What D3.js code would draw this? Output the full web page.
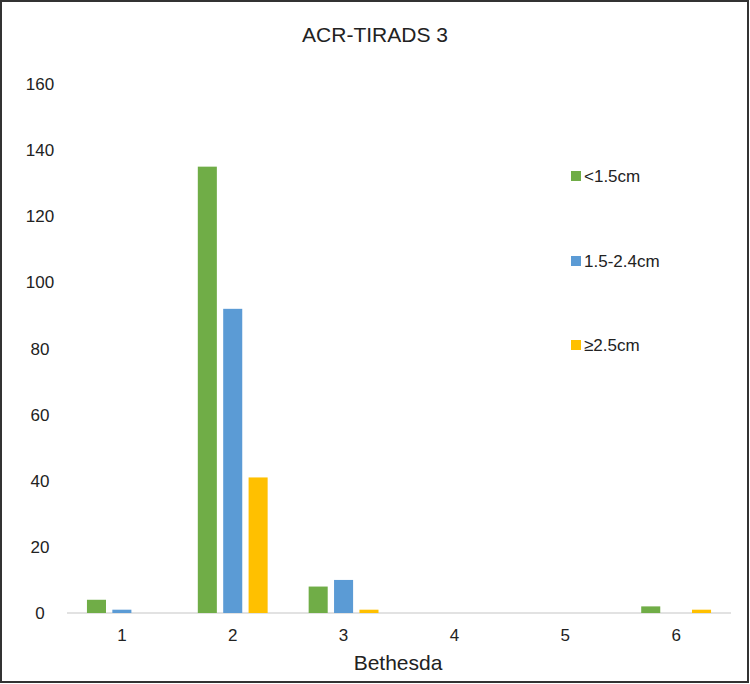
<!DOCTYPE html>
<html><head><meta charset="utf-8">
<script src="https://cdn.jsdelivr.net/npm/d3@7"></script>
<style>body{margin:0;background:#fff}svg{display:block}</style>
</head><body>
<svg id="c" width="750" height="684"></svg>
<script>
const categories = ["1","2","3","4","5","6"];
const seriesNames = ["<1.5cm","1.5-2.4cm","≥2.5cm"];
const small = [4,135,8,0,0,2];
const medium = [1,92,10,0,0,0];
const large = [0,41,1,0,0,1];
const colors = ["#70ad47","#5b9bd5","#ffc000"];
const yTicks = [0,20,40,60,80,100,120,140,160];

const svg = d3.select("#c");
svg.append("rect").attr("x",1).attr("y",1).attr("width",747).attr("height",681)
  .attr("fill","#fff").attr("stroke","#333").attr("stroke-width",2);
const font = "Liberation Sans, Arial, sans-serif";
const x = d3.scaleBand().domain(categories).range([67,731]).paddingInner(0.37).paddingOuter(0.18);
const xs = d3.scaleBand().domain(seriesNames).range([0,x.bandwidth()]).paddingInner(0.25);
const y = d3.scaleLinear().domain([0,160]).range([613,84]);

svg.append("text").attr("x",375).attr("y",42).attr("text-anchor","middle")
  .attr("font-family",font).attr("font-size",21).attr("fill","#222").text("ACR-TIRADS 3");

svg.append("line").attr("x1",67).attr("x2",731).attr("y1",y(0)).attr("y2",y(0))
  .attr("stroke","#d9d9d9").attr("stroke-width",1.5);

svg.append("g").selectAll("text").data(yTicks).join("text")
  .attr("x",40).attr("y",d=>y(d)+6).attr("text-anchor","middle")
  .attr("font-family",font).attr("font-size",17).attr("fill","#222").text(d=>d);

svg.append("g").selectAll("text").data(categories).join("text")
  .attr("x",d=>x(d)+x.bandwidth()/2).attr("y",641).attr("text-anchor","middle")
  .attr("font-family",font).attr("font-size",17).attr("fill","#222").text(d=>d);

svg.append("text").attr("x",398).attr("y",670).attr("text-anchor","middle")
  .attr("font-family",font).attr("font-size",21).attr("fill","#222").text("Bethesda");

const series = [small,medium,large];
series.forEach((vals,si)=>{
  svg.append("g").selectAll("rect").data(vals).join("rect")
    .attr("x",(d,i)=>x(categories[i])+xs(seriesNames[si]))
    .attr("width",xs.bandwidth())
    .attr("y",d=>y(d)).attr("height",d=>y(0)-y(d))
    .attr("fill",colors[si]);
});

const legY = [176,261,345];
seriesNames.forEach((n,i)=>{
  svg.append("rect").attr("x",571).attr("y",legY[i]-5).attr("width",10).attr("height",10).attr("fill",colors[i]);
  svg.append("text").attr("x",584).attr("y",legY[i]+6).attr("font-family",font)
    .attr("font-size",17).attr("fill","#222").text(n);
});
</script>
</body></html>
